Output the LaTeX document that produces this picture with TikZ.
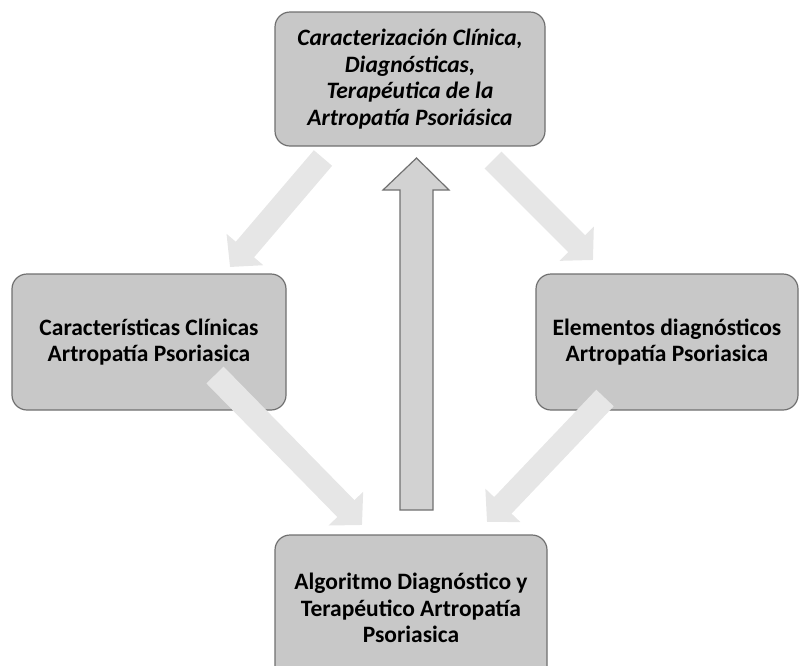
\documentclass[tikz,border=0pt]{standalone}
\usepackage{fontspec}
\setmainfont{Carlito}
\usetikzlibrary{arrows.meta,calc}
\definecolor{boxgray}{HTML}{C8C8C8}
\definecolor{boxline}{HTML}{707070}
\definecolor{flowgray}{HTML}{E6E6E6}
\definecolor{upgray}{HTML}{D2D2D2}
\begin{document}
\begin{tikzpicture}[x=1pt,y=-1pt,
  etapa/.style={draw=boxline,line width=1.2pt,fill=boxgray,rounded corners=15pt,
    align=center,inner sep=4pt,font=\fontsize{23.5}{26.5}\selectfont\bfseries},
  flecha/.style={flowgray,line width=24pt,-{Triangle[length=23pt,width=47pt]}}]
\clip (0,0) rectangle (800,665);
\useasboundingbox (0,0) rectangle (800,665);
\node[etapa,minimum width=270,minimum height=134] (caract) at (410,79)
  {\itshape Caracterización Clínica,\\ \itshape Diagnósticas,\\ \itshape Terapéutica de la\\ \itshape Artropatía Psoriásica};
\node[etapa,minimum width=274,minimum height=136] (clinica) at (149,342)
  {Características Clínicas\\ Artropatía Psoriasica};
\node[etapa,minimum width=262,minimum height=136] (diagn) at (667,342)
  {Elementos diagnósticos\\ Artropatía Psoriasica};
\node[etapa,minimum width=272,minimum height=146] (algor) at (411,608)
  {Algoritmo Diagnóstico y\\ Terapéutico Artropatía\\ Psoriasica};
\coordinate (a1) at (323,158);
\coordinate (b1) at (230,267);
\coordinate (a2) at (493,160);
\coordinate (b2) at (593,260);
\coordinate (a3) at (215,375);
\coordinate (b3) at (362,525);
\coordinate (a4) at (605,398);
\coordinate (b4) at (487,522);
\draw[flecha] (a1) -- (b1);
\draw[flecha] (a2) -- (b2);
\draw[flecha] (a3) -- (b3);
\draw[flecha] (a4) -- (b4);
\coordinate (cola) at (416.5,510);
\coordinate (punta) at (416.5,158);
\draw[boxline,line width=1.2pt,fill=upgray,line join=miter]
  ($(cola)+(-16.5,0)$) -- ($(cola)+(16.5,0)$) -- ($(punta)+(16.5,32)$)
  -- ($(punta)+(32.5,32)$) -- (punta) -- ($(punta)+(-33.5,32)$)
  -- ($(punta)+(-16.5,32)$) -- cycle;
\end{tikzpicture}
\end{document}
